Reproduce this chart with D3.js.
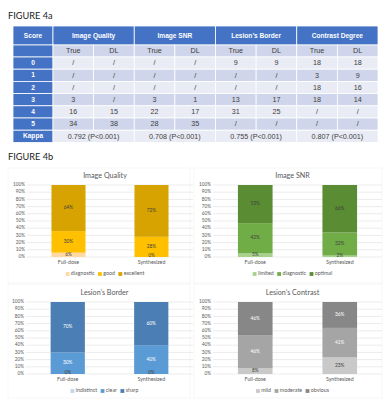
<!DOCTYPE html>
<html><head><meta charset="utf-8">
<script src="https://cdn.jsdelivr.net/npm/d3@7"></script>
<style>body{margin:0;background:#fff;} svg{display:block;}</style>
</head><body><svg id="c" width="385" height="400"></svg>
<script>
// ---------- DATA ----------
const tableGroups = ["Image Quality", "Image SNR", "Lesion\u2019s Border", "Contrast Degree"];
const tableSub = ["True", "DL"];
const tableScores = ["0", "1", "2", "3", "4", "5"];
const tableValues = [
  ["/", "/", "/", "/", "9", "9", "18", "18"],
  ["/", "/", "/", "/", "/", "/", "3", "9"],
  ["/", "/", "/", "/", "/", "/", "18", "16"],
  ["3", "/", "3", "1", "13", "17", "18", "14"],
  ["16", "15", "22", "17", "31", "25", "/", "/"],
  ["34", "38", "28", "35", "/", "/", "/", "/"]
];
const kappaValues = ["0.792 (P<0.001)", "0.708 (P<0.001)", "0.755 (P<0.001)", "0.807 (P<0.001)"];

const barCategories = ["Full-dose", "Synthesized"];
const qualityNames = ["diagnostic", "good", "excellent"];
const qualityValues = [[6, 0], [30, 28], [64, 72]];
const snrNames = ["limited", "diagnostic", "optimal"];
const snrValues = [[5, 2], [42, 32], [53, 66]];
const borderNames = ["indistinct", "clear", "sharp"];
const borderValues = [[0, 0], [30, 40], [70, 60]];
const contrastNames = ["mild", "moderate", "obvious"];
const contrastValues = [[8, 23], [46, 41], [46, 36]];
const yTicks = [0, 10, 20, 30, 40, 50, 60, 70, 80, 90, 100];

// ---------- DRAW ----------
const svg = d3.select("#c");
const chartFont = "Lato, 'Open Sans', sans-serif";
const tableFont = "'Liberation Sans', Arial, sans-serif";

svg.append("text").attr("x", 8).attr("y", 18.5).attr("font-family", chartFont)
  .attr("font-size", 9.2).attr("fill", "#222").text("FIGURE 4a");
svg.append("text").attr("x", 8).attr("y", 159.5).attr("font-family", chartFont)
  .attr("font-size", 9.2).attr("fill", "#222").text("FIGURE 4b");

// Table
const tx0 = 13, tx1 = 378, scoreW = 40;
const groupW = (tx1 - tx0 - scoreW) / tableGroups.length;
const subW = groupW / 2;
const headY = 26, headH = 19, subH = 12, rowH = 12.2;
const blue = "#4472C4", dark = "#CFD5EA", light = "#E9EBF5";
const tg = svg.append("g");
function cell(x, y, w, h, fill, txt, color, bold) {
  tg.append("rect").attr("x", x).attr("y", y).attr("width", w).attr("height", h)
    .attr("fill", fill).attr("stroke", "#fff").attr("stroke-width", 0.8);
  if (txt !== null) tg.append("text").attr("x", x + w / 2).attr("y", y + h / 2 + 0.3)
    .attr("text-anchor", "middle").attr("dominant-baseline", "middle")
    .attr("font-family", tableFont).attr("font-size", bold ? 6.6 : 7.2)
    .attr("font-weight", bold ? "bold" : "normal").attr("fill", color).text(txt);
}
cell(tx0, headY, scoreW, headH, blue, "Score", "#fff", true);
tableGroups.forEach((g, i) => cell(tx0 + scoreW + i * groupW, headY, groupW, headH, blue, g, "#fff", true));
let y = headY + headH;
cell(tx0, y, scoreW, subH, blue, "", "#fff", true);
tableGroups.forEach((g, i) => tableSub.forEach((s, j) =>
  cell(tx0 + scoreW + i * groupW + j * subW, y, subW, subH, dark, s, "#404040", false)));
y += subH;
tableValues.forEach((row, r) => {
  const fill = r % 2 === 0 ? light : dark;
  cell(tx0, y, scoreW, rowH, blue, tableScores[r], "#fff", true);
  row.forEach((v, c) => cell(tx0 + scoreW + c * subW, y, subW, rowH, fill, v, "#404040", false));
  y += rowH;
});
cell(tx0, y, scoreW, rowH, blue, "Kappa", "#fff", true);
kappaValues.forEach((k, i) => cell(tx0 + scoreW + i * groupW, y, groupW, rowH, light, k, "#404040", false));

// Charts
const charts = [
  { title: "Image Quality", names: qualityNames, values: qualityValues,
    colors: ["#FFD9A3", "#FFC000", "#D6A300"], lab: ["#404040", "#404040", "#404040"],
    x0: 27, x1: 193, labX: 25, top: 185, bot: 257, titleY: 176, box: [8, 168, 182, 115] },
  { title: "Image SNR", names: snrNames, values: snrValues,
    colors: ["#A9D18E", "#70AD47", "#5A8C34"], lab: ["#404040", "#404040", "#404040"],
    x0: 213, x1: 382, labX: 211, top: 185, bot: 257, titleY: 176, box: [194, 168, 188, 115] },
  { title: "Lesion\u2019s Border", names: borderNames, values: borderValues,
    colors: ["#BDD7EE", "#5B9BD5", "#4A7EB4"], lab: ["#404040", "#fff", "#fff"],
    x0: 26, x1: 193, labX: 24, top: 302, bot: 374, titleY: 293, box: [8, 284, 182, 114] },
  { title: "Lesion\u2019s Contrast", names: contrastNames, values: contrastValues,
    colors: ["#C9C9C9", "#A5A5A5", "#878787"], lab: ["#404040", "#fff", "#fff"],
    x0: 213, x1: 382, labX: 211, top: 302, bot: 374, titleY: 293, box: [194, 284, 188, 114] }
];

charts.forEach(ch => {
  const g = svg.append("g");
  g.append("rect").attr("x", ch.box[0]).attr("y", ch.box[1]).attr("width", ch.box[2]).attr("height", ch.box[3])
    .attr("fill", "none").attr("stroke", "#F2F2F2").attr("stroke-width", 0.6);
  const ys = d3.scaleLinear().domain([0, 100]).range([ch.bot, ch.top]);
  const xs = d3.scaleBand().domain(barCategories).range([ch.x0, ch.x1]).padding(0);
  const bw = xs.bandwidth() * 0.41;
  g.selectAll(".grid").data(yTicks).enter().append("line")
    .attr("x1", ch.x0).attr("x2", ch.x1).attr("y1", d => ys(d)).attr("y2", d => ys(d))
    .attr("stroke", "#D9D9D9").attr("stroke-width", 0.5);
  g.selectAll(".yl").data(yTicks).enter().append("text")
    .attr("x", ch.labX).attr("y", d => ys(d)).attr("text-anchor", "end").attr("dominant-baseline", "middle")
    .attr("font-family", chartFont).attr("font-size", 4.7).attr("fill", "#595959").text(d => d + "%");
  g.append("text").attr("x", (ch.x0 + ch.x1) / 2 - 5).attr("y", ch.titleY).attr("text-anchor", "middle")
    .attr("dominant-baseline", "middle").attr("font-family", chartFont).attr("font-size", 7.2)
    .attr("fill", "#595959").text(ch.title);
  const rows = barCategories.map((c, j) => {
    const o = { cat: c };
    ch.names.forEach((n, i) => o[n] = ch.values[i][j]);
    return o;
  });
  const stack = d3.stack().keys(ch.names)(rows);
  stack.forEach((layer, i) => {
    layer.forEach(seg => {
      const cx = xs(seg.data.cat) + xs.bandwidth() / 2;
      g.append("rect").attr("x", cx - bw / 2).attr("y", ys(seg[1])).attr("width", bw)
        .attr("height", ys(seg[0]) - ys(seg[1])).attr("fill", ch.colors[i]);
    });
  });
  stack.forEach((layer, i) => {
    layer.forEach(seg => {
      const cx = xs(seg.data.cat) + xs.bandwidth() / 2;
      const v = seg[1] - seg[0];
      g.append("text").attr("x", cx).attr("y", (ys(seg[0]) + ys(seg[1])) / 2 + (v === 0 ? -1.2 : 0))
        .attr("text-anchor", "middle").attr("dominant-baseline", "middle")
        .attr("font-family", chartFont).attr("font-size", 4.8)
        .attr("fill", v === 0 ? "#404040" : ch.lab[i]).text(v + "%");
    });
  });
  barCategories.forEach(c => {
    g.append("text").attr("x", xs(c) + xs.bandwidth() / 2).attr("y", ch.bot + 6)
      .attr("text-anchor", "middle").attr("dominant-baseline", "middle")
      .attr("font-family", chartFont).attr("font-size", 5.3).attr("fill", "#595959").text(c);
  });
  const lg = g.append("g");
  let lx = 0;
  ch.names.forEach((n, i) => {
    lg.append("rect").attr("x", lx).attr("y", -1.9).attr("width", 3.8).attr("height", 3.8).attr("fill", ch.colors[i]);
    const t = lg.append("text").attr("x", lx + 5.2).attr("y", 0).attr("dominant-baseline", "middle")
      .attr("font-family", chartFont).attr("font-size", 5.3).attr("fill", "#595959").text(n);
    lx += 5.2 + t.node().getComputedTextLength() + 3.5;
  });
  const lw = lx - 3.5;
  lg.attr("transform", `translate(${(ch.x0 + ch.x1) / 2 - 5 - lw / 2},${ch.bot + 17})`);
});
</script></body></html>
